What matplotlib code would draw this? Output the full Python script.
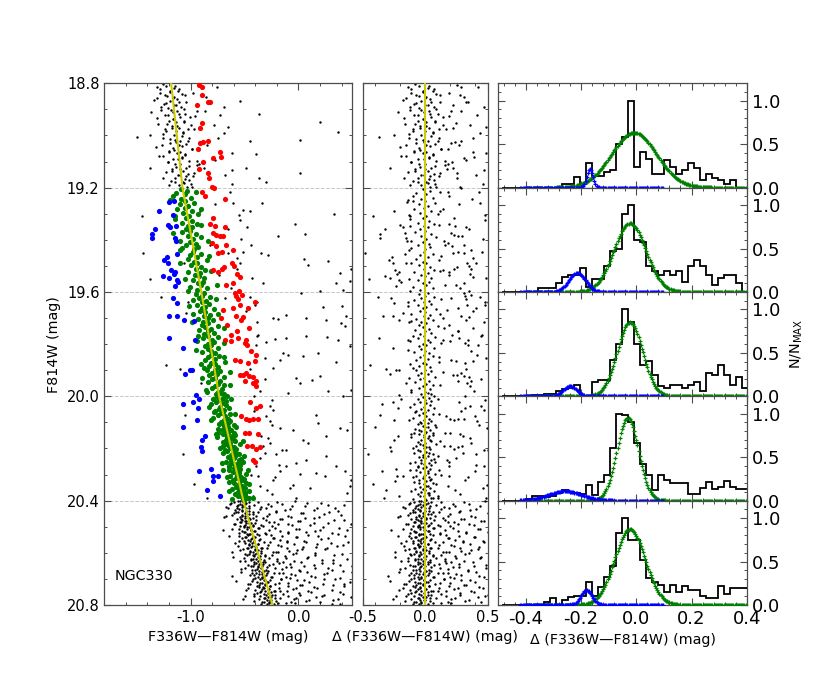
import numpy as np
import matplotlib
matplotlib.use("Agg")
import matplotlib.pyplot as plt
from matplotlib.ticker import MultipleLocator, FormatStrFormatter

plt.rcParams["axes.unicode_minus"] = False

# fiducial line of the main sequence (F814W, colour)
fid_mag = [18.8, 19.2, 19.6, 20.0, 20.4, 20.8]
fid_col = [-1.18, -1.075, -0.90, -0.735, -0.51, -0.24]

# stars as (delta colour from the fiducial, F814W)
black_upper = [
    (-0.05,18.812),(0.02,18.818),(-0.11,18.823),(0.06,18.829),(-0.02,18.834),(0.09,18.841),(-0.07,18.846),
    (0.01,18.851),(-0.15,18.857),(0.04,18.861),(-0.03,18.867),(0.12,18.872),(-0.09,18.878),(0.00,18.884),
    (0.07,18.889),(-0.05,18.894),(-0.12,18.901),(0.03,18.906),(-0.01,18.911),(0.10,18.917),(-0.06,18.922),
    (0.05,18.928),(-0.17,18.933),(-0.02,18.938),(0.08,18.944),(0.01,18.949),(-0.08,18.955),(0.14,18.96),
    (-0.04,18.965),(0.03,18.971),(-0.10,18.977),(0.00,18.982),(0.06,18.988),(-0.13,18.993),(-0.03,18.998),
    (-0.37,19.004),(0.11,19.009),(-0.07,19.015),(0.02,19.02),(-0.01,19.026),(0.08,19.031),(-0.15,19.036),
    (0.04,19.042),(-0.05,19.047),(0.13,19.053),(-0.09,19.058),(0.01,19.064),(-0.02,19.069),(0.06,19.075),
    (-0.19,19.08),(0.03,19.086),(-0.06,19.091),(0.09,19.097),(-0.11,19.102),(0.00,19.108),(0.16,19.113),
    (-0.04,19.119),(0.05,19.124),(-0.08,19.13),(0.02,19.135),(-0.14,19.141),(0.07,19.146),(-0.01,19.152),
    (0.11,19.157),(-0.06,19.163),(0.03,19.168),(-0.10,19.174),(0.01,19.179),(0.08,19.185),(-0.03,19.19),
    (0.04,19.196),(0.19,18.838),(0.21,18.905),(0.18,19.11),
    (-0.08,18.803),(0.03,18.81),(-0.14,18.816),(0.07,18.823),(-0.02,18.83),(-0.11,18.836),(0.12,18.843),
    (-0.05,18.85),(0.00,18.857),(-0.18,18.863),(0.05,18.87),(-0.07,18.877),(0.02,18.883),(-0.12,18.89),
    (0.09,18.897),(-0.03,18.903),(-0.22,18.91),(0.04,18.917),(-0.09,18.923),(0.14,18.93),(-0.01,18.937),
    (-0.06,18.943),(0.08,18.95),(-0.16,18.957),(0.01,18.963),(-0.04,18.97),(0.11,18.977),(-0.10,18.983),
    (0.06,18.99),(-0.25,18.997),
    (0.05,19.003),(-0.13,19.01),(-0.02,19.016),(0.10,19.023),(-0.07,19.03),(0.01,19.036),(-0.20,19.043),
    (0.13,19.05),(-0.04,19.057),(-0.09,19.063),(0.06,19.07),(-0.15,19.077),(0.03,19.083),(-0.01,19.09),
    (0.16,19.097),(-0.11,19.103),(-0.05,19.11),(0.08,19.117),(-0.28,19.123),(0.00,19.13),(-0.08,19.137),
    (0.12,19.143),(-0.03,19.15),(0.04,19.157),(-0.17,19.163),(0.07,19.17),(-0.06,19.177),(0.02,19.183),
    (-0.12,19.19),(0.09,19.197),
    (0.42,18.815),(0.31,18.852),(0.47,18.889),(0.19,18.926),(0.36,18.958),(0.44,18.99),(0.27,19.035),
    (0.49,19.068),(0.33,19.095),(0.22,19.125),(0.41,19.152),(0.46,19.185),(0.17,18.975),(0.38,19.01),
    (0.29,18.905),
]
black_field = [
    (0.617,18.866),(0.418,18.921),(0.484,18.969),(0.787,18.919),(0.671,19.02),(1.134,19.017),(1.346,18.947),
    (1.497,18.988),(0.72,19.071),(0.612,19.126),(0.473,19.132),(1.102,19.145),(0.716,19.164),(0.782,19.179),
    (0.525,19.285),(0.586,19.289),(0.708,19.257),(1.364,19.301),(0.477,19.324),(0.534,19.349),(0.98,19.339),
    (1.061,19.379),(0.806,19.384),(0.543,19.419),(0.455,19.445),(0.623,19.449),(0.681,19.458),(0.383,19.47),
    (1.004,19.474),(1.035,19.496),(1.225,19.483),(1.428,19.513),(1.314,19.528),(1.266,19.566),(1.394,19.556),
    (1.097,19.598),(1.32,19.594),(0.924,19.605),(0.587,19.566),(0.502,19.637),(0.475,19.649),(0.623,19.7),
    (0.67,19.703),(0.752,19.688),(0.932,19.7),(1.103,19.658),(1.117,19.706),(1.28,19.653),(1.305,19.694),
    (1.248,19.72),(1.095,19.771),(0.903,19.768),(0.712,19.775),(0.61,19.779),(0.455,19.766),(1.19,19.786),
    (1.289,19.809),(1.274,19.732),
    (0.525,19.79),(0.66,19.835),(0.704,19.841),(0.843,19.845),(0.983,19.835),(1.142,19.867),(1.235,19.975),
    (0.545,19.892),(0.619,19.86),(0.745,19.93),(0.884,19.937),(0.964,19.924),(0.642,19.988),(0.767,19.95),
    (1.015,19.981),(1.148,19.998),(0.446,20.039),(0.395,20.077),(0.47,20.052),(0.494,20.122),(0.614,20.128),
    (0.861,20.071),(0.859,20.103),(0.685,20.167),(0.725,20.179),(0.907,20.154),(1.049,20.122),(1.108,20.131),
    (0.415,20.096),(0.306,20.154),(0.298,20.192),(0.367,20.179),(0.3,20.218),(0.407,20.222),(0.506,20.205),
    (0.572,20.256),(0.472,20.269),(0.673,20.243),(0.864,20.23),(0.935,20.269),(1.002,20.288),(0.806,20.307),
    (0.736,20.294),(0.582,20.297),(0.4,20.288),(0.321,20.32),(0.494,20.339),(0.238,20.358),(0.182,20.345),
    (0.642,20.352),(1.02,20.345),(0.981,20.371),(1.046,20.32),(0.194,20.269),(0.188,20.307),(0.099,20.384),
    (-0.117,19.49),(-0.139,19.64),(-0.177,19.681),(0.21,19.624),(0.19,19.534),(0.12,19.29),(-0.15,19.95),
    (0.13,20.3),(-0.42,20.335),(-0.317,19.896),(-0.45,19.55),(0.16,19.42),
    (0.43,19.218),(0.27,19.262),(0.48,19.305),(0.35,19.36),(0.46,19.398),(0.31,19.452),(0.41,19.49),
    (0.49,19.545),(0.28,19.585),(0.44,19.621),(0.38,19.672),(0.47,19.716),(0.26,19.75),(0.42,19.802),
    (0.49,19.853),(0.33,19.897),(0.45,19.932),(0.39,19.978),(0.48,20.015),(0.29,20.058),(0.43,20.11),
    (0.36,20.16),(0.47,20.205),(0.25,20.235),(0.41,20.262),(0.34,20.31),(0.46,20.352),(0.28,20.375),
    (0.49,20.39),(0.44,19.26),(0.37,19.51),(0.45,19.77),(0.32,20.0),
    (-0.42,19.31),(-0.38,19.62),(-0.44,19.88),(-0.36,20.07),(-0.46,20.22),(-0.33,20.39),(-0.48,19.45),
]
black_lower = [
    (-0.03,20.403),(0.05,20.406),(-0.12,20.409),(0.01,20.412),(-0.06,20.415),(0.09,20.418),(-0.01,20.421),
    (-0.18,20.424),(0.03,20.427),(-0.08,20.43),(0.13,20.433),(-0.04,20.436),(0.00,20.439),(-0.10,20.442),
    (0.06,20.445),(-0.02,20.448),(0.02,20.451),(-0.14,20.454),(0.08,20.457),(-0.05,20.46),(-0.22,20.463),
    (0.04,20.466),(-0.07,20.469),(0.01,20.472),(0.16,20.475),(-0.03,20.478),(-0.09,20.481),(0.05,20.484),
    (-0.01,20.487),(-0.15,20.49),(0.10,20.493),(-0.06,20.496),(0.02,20.499),(-0.04,20.502),(0.07,20.505),
    (-0.11,20.508),(0.00,20.511),(-0.27,20.514),(0.03,20.517),(-0.08,20.52),(0.12,20.523),(-0.02,20.526),
    (-0.05,20.529),(0.06,20.532),(-0.13,20.535),(0.01,20.538),(-0.07,20.541),(0.18,20.544),(-0.03,20.547),
    (0.04,20.55),(-0.10,20.553),(-0.01,20.556),(0.08,20.559),(-0.19,20.562),(0.02,20.565),(-0.06,20.568),
    (0.11,20.571),(-0.04,20.574),(0.00,20.577),(-0.09,20.58),(0.05,20.583),(-0.02,20.586),(-0.16,20.589),
    (0.03,20.592),(-0.07,20.595),(0.14,20.598),(-0.01,20.601),(-0.12,20.604),(0.06,20.607),(-0.05,20.61),
    (0.01,20.613),(-0.24,20.616),(0.09,20.619),(-0.03,20.622),(-0.08,20.625),(0.04,20.628),(-0.14,20.631),
    (0.02,20.634),(-0.06,20.637),(0.17,20.64),(-0.02,20.643),(0.07,20.646),(-0.10,20.649),(0.00,20.652),
    (-0.04,20.655),(0.12,20.658),(-0.20,20.661),(0.03,20.664),(-0.07,20.667),(0.05,20.67),(-0.01,20.673),
    (-0.11,20.676),(0.10,20.679),(-0.05,20.682),(0.02,20.685),(-0.30,20.688),(0.06,20.691),(-0.03,20.694),
    (-0.09,20.697),(0.15,20.7),(-0.01,20.703),(0.04,20.706),(-0.13,20.709),(0.01,20.712),(-0.06,20.715),
    (0.08,20.718),(-0.17,20.721),(-0.02,20.724),(0.03,20.727),(-0.08,20.73),(0.11,20.733),(-0.04,20.736),
    (0.00,20.739),(-0.21,20.742),(0.06,20.745),(-0.07,20.748),(0.02,20.751),(-0.11,20.754),(0.13,20.757),
    (-0.03,20.76),(0.05,20.763),(-0.15,20.766),(0.01,20.769),(-0.05,20.772),(0.09,20.775),(-0.26,20.778),
    (-0.01,20.781),(0.04,20.784),(-0.09,20.787),(0.18,20.79),(-0.03,20.793),(0.02,20.796),
    (-0.05,20.401),(-0.01,20.404),(-0.09,20.406),(0.02,20.409),(-0.04,20.412),(-0.13,20.414),(-0.02,20.417),
    (0.04,20.42),(-0.07,20.422),(-0.03,20.425),(-0.16,20.428),(0.00,20.43),(-0.06,20.433),(-0.10,20.436),
    (0.03,20.438),(-0.04,20.441),(-0.08,20.444),(-0.01,20.446),(-0.12,20.449),(0.05,20.452),(-0.05,20.454),
    (-0.02,20.457),(-0.20,20.46),(-0.07,20.462),(0.01,20.465),(-0.03,20.468),(-0.11,20.47),(-0.06,20.473),
    (0.07,20.476),(-0.04,20.478),
    (-0.08,20.481),(0.01,20.484),(-0.03,20.486),(-0.14,20.489),(-0.05,20.492),(0.03,20.494),(-0.10,20.497),
    (-0.02,20.5),(-0.06,20.502),(0.06,20.505),(-0.18,20.508),(-0.04,20.51),(-0.01,20.513),(-0.09,20.516),
    (0.02,20.518),(-0.07,20.521),(-0.12,20.524),(-0.03,20.526),(0.04,20.529),(-0.05,20.532),(-0.22,20.534),
    (0.00,20.537),(-0.08,20.54),(-0.02,20.542),(-0.11,20.545),(0.05,20.548),(-0.06,20.55),(-0.04,20.553),
    (-0.15,20.556),(-0.01,20.558),
    (-0.03,20.561),(-0.10,20.564),(0.02,20.566),(-0.06,20.569),(-0.17,20.572),(-0.01,20.574),(-0.05,20.577),
    (0.04,20.58),(-0.08,20.582),(-0.13,20.585),(-0.02,20.588),(0.01,20.59),(-0.07,20.593),(-0.04,20.596),
    (-0.24,20.598),(0.03,20.601),(-0.09,20.604),(-0.03,20.606),(-0.11,20.609),(0.06,20.612),(-0.05,20.614),
    (-0.01,20.617),(-0.14,20.62),(-0.06,20.622),(0.00,20.625),(-0.08,20.628),(-0.19,20.63),(-0.02,20.633),
    (0.04,20.636),(-0.04,20.638),
    (-0.06,20.641),(0.02,20.644),(-0.12,20.646),(-0.03,20.649),(-0.08,20.652),(0.05,20.654),(-0.01,20.657),
    (-0.16,20.66),(-0.05,20.662),(-0.10,20.665),(0.01,20.668),(-0.04,20.67),(-0.21,20.673),(-0.07,20.676),
    (0.03,20.678),(-0.02,20.681),(-0.09,20.684),(-0.13,20.686),(0.00,20.689),(-0.06,20.692),(0.07,20.694),
    (-0.03,20.697),(-0.11,20.7),(-0.05,20.702),(-0.01,20.705),(-0.28,20.708),(-0.08,20.71),(0.02,20.713),
    (-0.04,20.716),(-0.15,20.718),
    (-0.02,20.721),(-0.07,20.724),(0.03,20.726),(-0.10,20.729),(-0.04,20.732),(-0.18,20.734),(0.01,20.737),
    (-0.06,20.74),(-0.12,20.742),(-0.03,20.745),(0.05,20.748),(-0.08,20.75),(-0.01,20.753),(-0.14,20.756),
    (-0.05,20.758),(0.02,20.761),(-0.09,20.764),(-0.23,20.766),(-0.02,20.769),(-0.06,20.772),(0.04,20.774),
    (-0.11,20.777),(-0.04,20.78),(0.00,20.782),(-0.16,20.785),(-0.07,20.788),(-0.03,20.79),(0.06,20.793),
    (-0.10,20.796),(-0.05,20.798),
]
black_lower_field = [
    (0.31,20.404),(0.58,20.409),(0.22,20.413),(0.77,20.418),(0.44,20.421),(0.19,20.427),(0.66,20.43),
    (0.36,20.436),(0.85,20.44),(0.27,20.443),(0.52,20.449),(0.71,20.452),(0.18,20.457),(0.40,20.461),
    (0.61,20.466),(0.29,20.47),(0.88,20.473),(0.47,20.478),(0.23,20.482),(0.73,20.486),(0.35,20.49),
    (0.55,20.495),(0.20,20.499),(0.82,20.503),(0.42,20.507),(0.64,20.511),(0.26,20.515),(0.50,20.52),
    (0.33,20.524),(0.79,20.527),(0.17,20.532),(0.60,20.536),(0.39,20.54),(0.69,20.544),(0.24,20.549),
    (0.46,20.553),(0.86,20.557),(0.30,20.56),(0.57,20.565),(0.21,20.569),(0.75,20.573),(0.43,20.577),
    (0.28,20.582),(0.63,20.586),(0.37,20.59),(0.90,20.594),(0.19,20.598),(0.53,20.602),(0.32,20.606),
    (0.70,20.61),(0.45,20.615),(0.25,20.619),(0.81,20.622),(0.58,20.627),(0.16,20.631),(0.38,20.635),
    (0.67,20.639),(0.27,20.643),(0.49,20.648),(0.84,20.652),(0.22,20.656),(0.61,20.66),(0.34,20.664),
    (0.74,20.668),(0.41,20.673),(0.18,20.677),(0.56,20.681),(0.29,20.685),(0.88,20.689),(0.47,20.693),
    (0.23,20.698),(0.65,20.702),(0.36,20.706),(0.78,20.71),(0.20,20.714),(0.52,20.719),(0.31,20.723),
    (0.71,20.727),(0.43,20.731),(0.26,20.735),(0.86,20.74),(0.59,20.744),(0.17,20.748),(0.39,20.752),
    (0.68,20.756),(0.28,20.761),(0.48,20.765),(0.82,20.769),(0.24,20.773),(0.62,20.777),(0.35,20.781),
    (0.76,20.785),(0.45,20.79),(0.21,20.794),(0.55,20.798),
    (0.48,20.402),(0.13,20.405),(0.71,20.409),(0.35,20.412),(0.92,20.415),(0.24,20.419),(0.56,20.422),
    (0.15,20.425),(0.83,20.428),(0.41,20.432),(0.63,20.435),(0.28,20.438),(0.11,20.442),(0.76,20.445),
    (0.50,20.448),(0.20,20.451),(0.87,20.455),(0.37,20.458),(0.66,20.461),(0.14,20.465),(0.53,20.468),
    (0.31,20.471),(0.79,20.474),(0.45,20.478),(0.18,20.481),(0.60,20.484),(0.26,20.488),(0.94,20.491),
    (0.39,20.494),(0.12,20.497),
    (0.67,20.501),(0.22,20.504),(0.44,20.508),(0.89,20.511),(0.16,20.514),(0.58,20.518),(0.33,20.521),
    (0.74,20.524),(0.12,20.527),(0.51,20.531),(0.27,20.534),(0.85,20.537),(0.40,20.541),(0.19,20.544),
    (0.62,20.547),(0.96,20.55),(0.30,20.554),(0.47,20.557),(0.14,20.56),(0.70,20.564),(0.36,20.567),
    (0.81,20.57),(0.23,20.573),(0.55,20.577),(0.10,20.58),(0.65,20.583),(0.42,20.587),(0.90,20.59),
    (0.29,20.593),(0.17,20.596),
    (0.35,20.6),(0.78,20.603),(0.13,20.607),(0.52,20.61),(0.24,20.613),(0.93,20.617),(0.44,20.62),
    (0.16,20.623),(0.68,20.626),(0.31,20.63),(0.86,20.633),(0.21,20.636),(0.57,20.64),(0.11,20.643),
    (0.73,20.646),(0.39,20.649),(0.27,20.653),(0.97,20.656),(0.49,20.659),(0.18,20.663),(0.64,20.666),
    (0.34,20.669),(0.82,20.672),(0.14,20.676),(0.59,20.679),(0.25,20.682),(0.91,20.686),(0.43,20.689),
    (0.20,20.692),(0.70,20.695),
    (0.15,20.699),(0.54,20.702),(0.29,20.706),(0.88,20.709),(0.40,20.712),(0.12,20.716),(0.72,20.719),
    (0.33,20.722),(0.61,20.725),(0.19,20.729),(0.95,20.732),(0.46,20.735),(0.23,20.739),(0.80,20.742),
    (0.37,20.745),(0.10,20.748),(0.66,20.752),(0.28,20.755),(0.84,20.758),(0.50,20.762),(0.17,20.765),
    (0.75,20.768),(0.42,20.771),(0.98,20.775),(0.21,20.778),(0.57,20.781),(0.32,20.785),(0.89,20.788),
    (0.13,20.791),(0.63,20.795),
]
green_stars = [
    (-0.02,19.205),(0.04,19.211),(-0.07,19.219),(0.01,19.224),(-0.10,19.232),(0.06,19.238),(-0.03,19.243),
    (0.00,19.251),(0.08,19.258),(-0.05,19.262),(0.02,19.27),(-0.01,19.277),(-0.09,19.283),(0.05,19.289),
    (-0.04,19.296),(0.10,19.301),(0.01,19.309),(-0.02,19.315),(-0.12,19.321),(0.03,19.328),(-0.06,19.334),
    (0.07,19.339),(-0.01,19.347),(0.02,19.352),(-0.04,19.36),(0.00,19.366),(-0.08,19.371),(0.05,19.378),
    (-0.03,19.385),(0.09,19.39),(0.01,19.397),(-0.11,19.403),(-0.02,19.41),(0.03,19.416),(-0.06,19.421),
    (0.04,19.429),(0.00,19.435),(-0.13,19.44),(-0.01,19.447),(0.06,19.454),(-0.04,19.459),(0.02,19.466),
    (-0.07,19.472),(0.11,19.478),(-0.02,19.485),(0.01,19.49),(-0.05,19.497),(0.04,19.503),(-0.01,19.51),
    (0.07,19.516),(-0.09,19.522),(0.02,19.529),(-0.03,19.535),(0.00,19.54),(0.05,19.548),(-0.06,19.554),
    (0.03,19.56),(-0.02,19.567),(0.01,19.573),(-0.10,19.579),(0.06,19.586),(-0.04,19.592),
    (0.02,19.603),(-0.05,19.608),(0.00,19.614),(0.07,19.619),(-0.03,19.624),(-0.09,19.63),(0.03,19.635),
    (-0.01,19.64),(0.05,19.646),(-0.06,19.651),(0.01,19.656),(-0.02,19.662),(0.09,19.667),(-0.04,19.672),
    (0.00,19.677),(-0.11,19.683),(0.04,19.688),(-0.01,19.693),(0.02,19.698),(-0.07,19.704),(0.06,19.709),
    (-0.03,19.714),(0.01,19.72),(-0.05,19.725),(0.10,19.73),(-0.02,19.735),(0.03,19.741),(-0.08,19.746),
    (0.00,19.751),(0.05,19.756),(-0.04,19.762),(-0.01,19.767),(0.08,19.772),(-0.06,19.777),(0.02,19.783),
    (-0.12,19.788),(0.04,19.793),(-0.02,19.798),(0.01,19.804),(-0.05,19.809),(0.07,19.814),(-0.03,19.819),
    (0.00,19.825),(-0.09,19.83),(0.03,19.835),(-0.01,19.84),(0.06,19.846),(-0.04,19.851),(0.02,19.856),
    (-0.07,19.862),(0.11,19.867),(-0.02,19.872),(0.01,19.877),(-0.05,19.883),(0.04,19.888),(-0.10,19.893),
    (0.00,19.898),(0.05,19.904),(-0.03,19.909),(0.02,19.914),(-0.06,19.919),(0.08,19.925),(-0.01,19.93),
    (-0.04,19.935),(0.03,19.94),(-0.08,19.946),(0.01,19.951),(0.06,19.956),(-0.02,19.962),(-0.05,19.967),
    (0.04,19.972),(-0.11,19.977),(0.00,19.983),(0.02,19.988),(-0.03,19.993),(0.07,19.998),
    (-0.02,20.002),(0.03,20.006),(-0.06,20.01),(0.00,20.014),(0.05,20.019),(-0.04,20.023),(0.01,20.027),
    (-0.09,20.031),(0.04,20.035),(-0.01,20.04),(0.07,20.044),(-0.03,20.048),(0.02,20.052),(-0.07,20.056),
    (0.00,20.061),(-0.02,20.065),(0.06,20.069),(-0.05,20.073),(0.01,20.077),(-0.10,20.082),(0.03,20.086),
    (-0.01,20.09),(0.05,20.094),(-0.04,20.098),(0.02,20.103),(-0.06,20.107),(0.08,20.111),(-0.02,20.115),
    (0.00,20.119),(-0.08,20.124),(0.04,20.128),(-0.03,20.132),(0.01,20.136),(0.06,20.14),(-0.05,20.145),
    (-0.01,20.149),(0.03,20.153),(-0.11,20.157),(0.02,20.161),(-0.03,20.166),(0.05,20.17),(-0.06,20.174),
    (0.00,20.178),(0.09,20.182),(-0.02,20.187),(-0.07,20.191),(0.03,20.195),(-0.01,20.199),(0.04,20.203),
    (-0.04,20.208),(0.01,20.212),(-0.09,20.216),(0.06,20.22),(-0.02,20.224),(0.02,20.229),(-0.05,20.233),
    (0.00,20.237),(0.07,20.241),(-0.03,20.245),(-0.08,20.25),(0.03,20.254),(-0.01,20.258),(0.05,20.262),
    (-0.06,20.266),(0.01,20.271),(-0.02,20.275),(0.04,20.279),(-0.12,20.283),(0.02,20.287),(-0.04,20.292),
    (0.08,20.296),(0.00,20.3),(-0.07,20.304),(0.03,20.308),(-0.02,20.313),(0.05,20.317),(-0.05,20.321),
    (0.01,20.325),(-0.09,20.329),(0.06,20.334),(-0.01,20.338),(0.02,20.342),(-0.04,20.346),(0.04,20.35),
    (-0.08,20.355),(0.00,20.359),(0.07,20.363),(-0.03,20.367),(0.02,20.371),(-0.06,20.376),(0.03,20.38),
    (-0.01,20.384),(0.05,20.388),(-0.10,20.392),(0.01,20.397),
    (0.12,19.215),(-0.14,19.247),(0.14,19.28),(-0.12,19.31),(0.11,19.343),(-0.16,19.372),(0.15,19.405),
    (-0.11,19.433),(0.13,19.462),(-0.15,19.49),(0.12,19.52),(-0.13,19.55),(0.16,19.575),(-0.12,19.598),
    (0.13,19.625),(-0.14,19.655),(0.12,19.685),(-0.13,19.715),(0.15,19.74),(-0.10,19.768),(0.13,19.796),
    (-0.14,19.822),(0.11,19.85),(-0.12,19.878),(0.14,19.905),(-0.13,19.93),(0.12,19.958),(-0.11,19.985),
    (0.10,20.012),(-0.12,20.04),(0.11,20.066),(-0.13,20.092),(0.09,20.118),(-0.11,20.146),(0.12,20.172),
    (-0.10,20.2),(0.10,20.227),(-0.12,20.255),(0.11,20.282),(-0.10,20.31),(0.09,20.337),(-0.11,20.362),
    (0.10,20.388),(0.08,20.25),(-0.09,20.14),
    (-0.03,20.104),(0.02,20.117),(-0.05,20.129),(0.00,20.142),(-0.01,20.155),(0.04,20.168),(-0.04,20.181),
    (0.01,20.193),(-0.06,20.206),(0.03,20.219),(-0.02,20.231),(0.05,20.244),(-0.03,20.257),(0.00,20.269),
    (-0.07,20.282),(0.02,20.295),(-0.01,20.307),(0.04,20.32),(-0.05,20.333),(0.01,20.345),(-0.02,20.357),
    (0.03,20.37),(-0.04,20.382),(0.00,20.394),(0.06,20.39),(-0.06,20.27),(0.06,20.15),(-0.08,20.06),
    (0.05,19.99),(-0.07,19.9),
]
red_stars = [
    (0.258,18.806),(0.287,18.813),(0.276,18.845),(0.324,18.873),(0.346,18.870),(0.222,18.883),(0.247,18.953),
    (0.225,18.972),(0.238,19.024),(0.207,19.027),(0.284,19.021),(0.184,19.052),(0.383,19.062),(0.313,19.087),
    (0.39,19.084),(0.218,19.1),(0.173,19.13),(0.253,19.145),(0.256,19.164),(0.279,19.196),(0.289,19.202),
    (0.194,19.232),(0.179,19.215),(0.375,19.244),(0.233,19.317),(0.193,19.339),(0.235,19.347),(0.327,19.351),
    (0.207,19.375),(0.228,19.382),(0.264,19.387),(0.295,19.385),(0.185,19.413),(0.216,19.423),(0.309,19.419),
    (0.264,19.445),(0.222,19.449),(0.364,19.439),(0.331,19.49),(0.347,19.502),(0.146,19.515),(0.19,19.522),
    (0.232,19.513),(0.254,19.505),(0.358,19.531),(0.384,19.541),(0.309,19.566),(0.244,19.573),(0.354,19.598),
    (0.307,19.602),(0.315,19.617),(0.37,19.611),(0.48,19.637),(0.407,19.662),(0.33,19.628),(0.335,19.649),
    (0.171,19.668),(0.266,19.662),(0.286,19.694),(0.348,19.697),(0.327,19.707),(0.386,19.739),(0.187,19.726),
    (0.265,19.748),(0.269,19.777),(0.343,19.783),(0.211,19.764),(0.145,19.70),
    (0.141,19.784),(0.2,19.787),(0.321,19.796),(0.34,19.803),(0.37,19.828),(0.411,19.841),(0.204,19.86),
    (0.25,19.863),(0.322,19.873),(0.385,19.866),(0.225,19.918),(0.256,19.92),(0.284,19.911),(0.31,19.924),
    (0.347,19.927),(0.364,19.943),(0.262,19.943),(0.336,19.95),(0.361,19.962),(0.273,20.02),(0.164,20.077),
    (0.198,20.087),(0.228,20.09),(0.265,20.086),(0.312,20.087),(0.319,20.045),(0.36,20.039),(0.159,20.141),
    (0.199,20.141),(0.282,20.144),(0.151,20.19),(0.2,20.19),(0.265,20.195),(0.23,20.202),(0.177,20.243),
    (0.19,20.25),
]
blue_stars = [
    (-0.099,19.251),(-0.148,19.256),(-0.253,19.288),(-0.133,19.304),(-0.2,19.343),(-0.18,19.349),(-0.123,19.347),
    (-0.32,19.359),(-0.361,19.377),(-0.364,19.394),(-0.157,19.394),(-0.145,19.403),(-0.262,19.464),(-0.293,19.479),
    (-0.256,19.487),(-0.16,19.455),(-0.241,19.515),(-0.213,19.522),(-0.225,19.531),(-0.324,19.538),(-0.278,19.547),
    (-0.21,19.554),(-0.197,19.562),(-0.235,19.576),(-0.272,19.624),(-0.247,19.643),(-0.336,19.694),(-0.259,19.691),
    (-0.207,19.709),(-0.114,19.713),(-0.37,19.777),(-0.256,19.815),(-0.136,19.784),(-0.281,19.914),(-0.231,19.901),
    (-0.206,19.898),(-0.208,19.994),(-0.258,20.02),(-0.349,20.029),(-0.191,20.01),(-0.221,20.045),(-0.252,20.09),
    (-0.398,20.118),(-0.219,20.154),(-0.25,20.167),(-0.281,20.195),(-0.275,20.211),(-0.347,20.288),(-0.237,20.279),
    (-0.227,20.307),(-0.238,20.326),(-0.18,20.305),(-0.312,20.361),(-0.21,20.384),
]

# N/Nmax histograms of delta colour in the five magnitude bins (top to bottom)
hist_lo = -0.4854
hist_width = 0.0217
hist_1 = [0,0,0,0,0,0,0,0,0,0, 0.045,0.045,0.125,0.045,0.28,0.13,0.13,0.175,0.2,0.5,
          0.58,1.0,0.24,0.41,0.33,0.16,0.16,0.32,0.24,0.16, 0.2,0.28,0.23,0.085,0.16,0.115,0.085,0.045,0.085,0,0]
hist_2 = [0,0,0,0,0,0,0.05,0.05,0.05,0.1, 0.17,0.2,0.2,0.28,0.06,0.15,0.15,0.3,0.47,0.5,
          0.9,1.0,0.6,0.57,0.3,0.24,0.2,0.24,0.2,0.24, 0.12,0.3,0.37,0.3,0.2,0.085,0.16,0.2,0.2,0.1,0]
hist_3 = [0,0,0,0,0,0.02,0.02,0.03,0.03,0.06, 0.08,0.1,0.13,0,0,0.17,0.19,0.19,0.42,0.6,
          1.0,0.86,0.6,0.36,0.41,0.25,0.12,0.09,0.13,0.13, 0.09,0.13,0.16,0.06,0.27,0.25,0.36,0.25,0.13,0.22,0.1]
hist_4 = [0,0,0,0,0.02,0.05,0.05,0.04,0.05,0.09, 0.12,0.1,0.09,0.076,0.175,0.07,0.22,0.3,0.6,1.0,
          0.98,0.9,0.66,0.42,0.3,0.125,0.3,0.24,0.2,0.2, 0.2,0.076,0.076,0.15,0.21,0.13,0.16,0.23,0.16,0.13,0.13]
hist_5 = [0,0,0,0,0,0,0,0.04,0.077,0, 0.06,0.09,0.1,0.1,0.27,0.1,0.21,0.32,0.45,0.83,
          1.0,0.75,0.75,0.52,0.31,0.26,0.23,0.15,0.23,0.15, 0.22,0.17,0.17,0.1,0.08,0.08,0.22,0.13,0.2,0.19,0.19]
hists = [hist_1, hist_2, hist_3, hist_4, hist_5]

# gaussian fits per bin: centre, sigma, height
green_mu = [-0.008, -0.023, -0.023, -0.031, -0.023]
green_sig = [0.082, 0.058, 0.046, 0.039, 0.055]
green_amp = [0.63, 0.79, 0.85, 0.95, 0.87]
blue_mu = [-0.168, -0.214, -0.24, -0.258, -0.18]
blue_sig = [0.011, 0.03, 0.025, 0.06, 0.02]
blue_amp = [0.22, 0.22, 0.115, 0.11, 0.17]


def unpack(stars):
    d = np.array([s[0] for s in stars])
    m = np.array([s[1] for s in stars])
    return d, m, d + np.interp(m, fid_mag, fid_col)


W, H = 830.0, 692.0
def box(x0, y0, x1, y1):
    return [x0 / W, 1 - y1 / H, (x1 - x0) / W, (y1 - y0) / H]

fig = plt.figure(figsize=(8.3, 6.92), dpi=100)
fig.patch.set_facecolor("white")

ax_cmd = fig.add_axes(box(104.3, 83.3, 352.3, 605))
ax_mid = fig.add_axes(box(362.7, 83.3, 487.7, 605))
ph = (605 - 83.3) / 5
ax_h = [fig.add_axes(box(498.3, 83.3 + k * ph, 746.7, 83.3 + (k + 1) * ph)) for k in range(5)]

spine_c = "0.3"
for ax in [ax_cmd, ax_mid] + ax_h:
    for sp in ax.spines.values():
        sp.set_color(spine_c)
        sp.set_linewidth(0.9)
    ax.tick_params(which="both", direction="in", top=True, right=True, color=spine_c)
    ax.tick_params(which="major", length=5, width=0.8)
    ax.tick_params(which="minor", length=2.5, width=0.7)

# left: colour-magnitude diagram
for stars in [black_upper, black_field, black_lower, black_lower_field]:
    d, m, c = unpack(stars)
    ax_cmd.scatter(c, m, s=3, c="k", marker="o", linewidths=0, zorder=2)
for stars, col in [(green_stars, "#008000"), (red_stars, "#ff0000"), (blue_stars, "#0000ff")]:
    d, m, c = unpack(stars)
    ax_cmd.scatter(c, m, s=14, c=col, marker="o", linewidths=0, zorder=3)
ax_cmd.plot(fid_col, fid_mag, color=(0.8, 0.8, 0.0), lw=1.5, zorder=4)
ax_cmd.set_xlim(-1.8, 0.5)
ax_cmd.set_ylim(20.8, 18.8)
ax_cmd.xaxis.set_major_locator(MultipleLocator(1.0))
ax_cmd.xaxis.set_minor_locator(MultipleLocator(0.2))
ax_cmd.xaxis.set_major_formatter(FormatStrFormatter("%.1f"))
ax_cmd.yaxis.set_major_locator(MultipleLocator(0.4))
ax_cmd.yaxis.set_minor_locator(MultipleLocator(0.1))
ax_cmd.yaxis.set_major_formatter(FormatStrFormatter("%.1f"))
ax_cmd.yaxis.grid(True, color="0.78", ls="--", lw=0.7)
ax_cmd.set_axisbelow(True)
ax_cmd.tick_params(labelsize=10.5)
ax_cmd.set_xlabel("F336W\u2014F814W (mag)", fontsize=10.3)
ax_cmd.set_ylabel("F814W (mag)", fontsize=10.3)
ax_cmd.text(-1.7, 20.69, "NGC330", fontsize=10.3, va="center")

# middle: verticalised diagram
for stars in [black_upper, black_field, black_lower, black_lower_field, green_stars, red_stars, blue_stars]:
    d, m, c = unpack(stars)
    ax_mid.scatter(d, m, s=3, c="k", marker="o", linewidths=0, zorder=2)
fid_delta = np.array(fid_col) - np.interp(fid_mag, fid_mag, fid_col)
ax_mid.plot(fid_delta, fid_mag, color=(0.8, 0.8, 0.0), lw=1.5, zorder=4)
ax_mid.set_xlim(-0.5, 0.5)
ax_mid.set_ylim(20.8, 18.8)
ax_mid.xaxis.set_major_locator(MultipleLocator(0.5))
ax_mid.xaxis.set_minor_locator(MultipleLocator(0.2))
ax_mid.xaxis.set_major_formatter(FormatStrFormatter("%.1f"))
ax_mid.yaxis.set_major_locator(MultipleLocator(0.4))
ax_mid.yaxis.set_minor_locator(MultipleLocator(0.1))
ax_mid.yaxis.grid(True, color="0.78", ls="--", lw=0.7)
ax_mid.set_axisbelow(True)
ax_mid.tick_params(labelsize=10.5, labelleft=False)
ax_mid.set_xlabel("\u0394 (F336W\u2014F814W) (mag)", fontsize=10.3)

# right: histograms with gaussian fits
edges = hist_lo + hist_width * np.arange(len(hist_1) + 1)
xg = np.arange(-0.40, 0.40, 0.004)
xb = np.arange(-0.42, 0.10, 0.004)
for k, ax in enumerate(ax_h):
    ax.stairs(hists[k], edges, color="k", lw=1.3, zorder=2)
    yg = green_amp[k] * np.exp(-0.5 * ((xg - green_mu[k]) / green_sig[k]) ** 2)
    yb = blue_amp[k] * np.exp(-0.5 * ((xb - blue_mu[k]) / blue_sig[k]) ** 2)
    ax.plot(xg, yg, "+", color="#008000", ms=3, mew=0.9, zorder=3)
    ax.plot(xb, yb, "+", color="#0000ff", ms=3, mew=0.9, zorder=4)
    ax.set_xlim(-0.5, 0.4)
    ax.set_ylim(0, 1.2)
    ax.xaxis.set_major_locator(MultipleLocator(0.2))
    ax.xaxis.set_minor_locator(MultipleLocator(0.04))
    ax.xaxis.set_major_formatter(FormatStrFormatter("%.1f"))
    ax.yaxis.set_major_locator(MultipleLocator(0.5))
    ax.yaxis.set_minor_locator(MultipleLocator(0.1))
    ax.yaxis.set_major_formatter(FormatStrFormatter("%.1f"))
    ax.tick_params(labelsize=13, labelleft=False, labelright=True, labelbottom=(k == 4))
    if k == 2:
        ax.yaxis.set_label_position("right")
        ax.set_ylabel("N/N$_{\\rm MAX}$", fontsize=10.3, labelpad=6)
ax_h[4].set_xlabel("\u0394 (F336W\u2014F814W) (mag)", fontsize=10.3)

fig.savefig("out.png", dpi=100, facecolor="white")
